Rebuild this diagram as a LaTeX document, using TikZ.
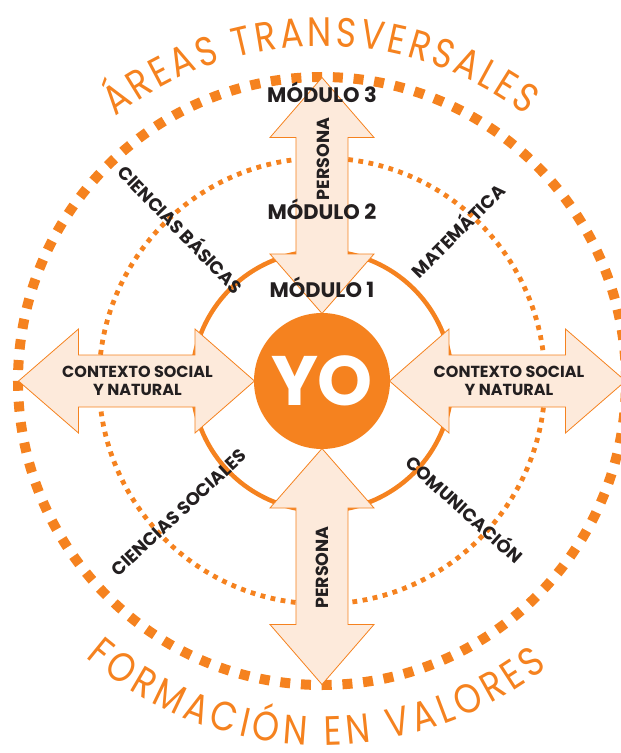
\documentclass[tikz,border=0pt]{standalone}
\usepackage{fontspec}
\usetikzlibrary{decorations.text}
\newfontfamily\labfont{Poppins}
\newfontfamily\titlefont{Poppins}[FakeStretch=0.84]
\definecolor{ora}{HTML}{F5821F}
\definecolor{peach}{HTML}{FDEADB}
\definecolor{ink}{HTML}{231F20}
\begin{document}
\begin{tikzpicture}[x=1pt,y=1pt,
  lab/.style={font=\labfont\bfseries\fontsize{16}{18.7}\selectfont, text=ink, align=center, inner sep=0pt},
  modlab/.style={lab, font=\labfont\bfseries\fontsize{21}{21}\selectfont, anchor=base},
  perslab/.style={lab, font=\labfont\bfseries\fontsize{17.5}{17.5}\selectfont, rotate=90},
  diaglab/.style={lab, font=\labfont\bfseries\fontsize{18}{18}\selectfont, text height=12.6pt, text depth=0pt},
  arrowst/.style={fill=peach, draw=ora, line width=0.8pt, line join=miter},
  titlest/.style={decorate, decoration={text along path, text color=ora, text align=fit to path}}]
\useasboundingbox (-322,-372) rectangle (299,381);
% rings
\draw[ora, line width=10pt, dash pattern=on 10pt off 10.76pt] (0,0) circle[radius=304];
\draw[ora, line width=4.8pt, dash pattern=on 4.8pt off 5.5pt] (0,0) circle[radius=223];
\draw[ora, line width=4.5pt] (0,0) circle[radius=130];
% four double arrows
\foreach \a in {0,90,180,270}{
  \draw[arrowst, rotate=\a] (67.5,0) -- (127,52) -- (127,26) -- (243.5,26) -- (243.5,52)
     -- (303.5,0) -- (243.5,-52) -- (243.5,-26) -- (127,-26) -- (127,-52) -- cycle;
}
% centre
\node[circle, fill=ora, minimum size=136pt, inner sep=0pt, text=white,
      font=\labfont\bfseries\fontsize{70}{70}\selectfont] (yo) at (0,0) {YO};
% labels
\node[modlab] (m3) at (0,278.3) {MÓDULO 3};
\node[modlab] (m2) at (0,161.7) {MÓDULO 2};
\node[modlab] (m1) at (0,83.3) {MÓDULO 1};
\node[perslab] (p1) at (1,222) {PERSONA};
\node[perslab] (p2) at (0,-186.5) {PERSONA};
\node[lab] (cl) at (-184.5,0) {CONTEXTO SOCIAL\\Y NATURAL};
\node[lab] (cr) at (187,0) {CONTEXTO SOCIAL\\Y NATURAL};
\node[diaglab, rotate=-46] (cb) at (-142,151) {CIENCIAS BÁSICAS};
\node[diaglab, rotate=45] (ma) at (136.5,149.5) {MATEMÁTICA};
\node[diaglab, rotate=43] (cs) at (-143,-131.5) {CIENCIAS SOCIALES};
\node[diaglab, rotate=-42] (co) at (142,-129) {COMUNICACIÓN};
% arc titles
\path[titlest, decoration={text={|\titlefont\fontsize{41}{41}\selectfont|ÁREAS TRANSVERSALES}}]
  (128:335) arc[start angle=128, end angle=52.5, radius=335];
\path[titlest, decoration={text={|\titlefont\fontsize{41}{41}\selectfont|FORMACIÓN EN VALORES}}]
  (229.5:364) arc[start angle=229.5, end angle=308.2, radius=364];
\end{tikzpicture}
\end{document}
